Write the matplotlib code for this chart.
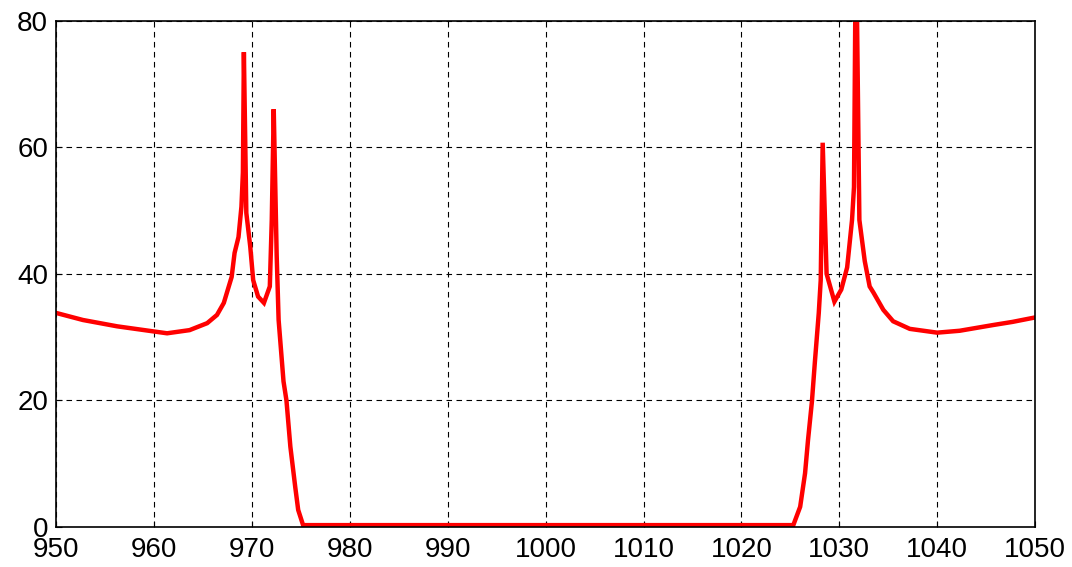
import numpy as np
import matplotlib
matplotlib.use("Agg")
import matplotlib.pyplot as plt

plt.rcParams['font.family'] = ['Liberation Sans', 'DejaVu Sans']

# frequency axis and response (band-stop with resonant edges)
freq = [950.0, 952.7, 956.2, 959.9, 961.3, 963.6, 965.4, 966.4, 967.1, 967.9,
        968.2, 968.6, 968.9, 969.05, 969.15, 969.4, 969.8, 970.1, 970.6, 971.2,
        971.8, 972.0, 972.2, 972.5, 972.7, 973.2, 973.5, 973.9, 974.4, 974.7,
        975.2, 1025.3, 1026.0, 1026.5, 1026.8, 1027.2, 1027.5, 1027.9, 1028.1, 1028.3,
        1028.7, 1029.5, 1030.2, 1030.8, 1031.3, 1031.5, 1031.7, 1032.05, 1032.6, 1033.1,
        1033.5, 1034.5, 1035.5, 1037.2, 1040.0, 1042.3, 1045.7, 1047.7, 1050.0]
level = [33.8, 32.7, 31.7, 30.9, 30.6, 31.1, 32.2, 33.5, 35.4, 39.5,
         43.3, 45.8, 50.6, 56.0, 75.0, 49.6, 44.3, 39.0, 36.4, 35.4,
         38.0, 48.5, 66.0, 43.0, 32.7, 23.0, 20.0, 12.7, 6.3, 2.7,
         0.3, 0.3, 3.2, 8.5, 13.7, 19.8, 26.0, 33.8, 39.0, 60.7,
         40.0, 35.6, 37.5, 41.0, 48.5, 53.7, 95.0, 48.5, 42.0, 38.0,
         37.0, 34.3, 32.5, 31.3, 30.7, 31.0, 31.9, 32.4, 33.1]

xticks = [950, 960, 970, 980, 990, 1000, 1010, 1020, 1030, 1040, 1050]
yticks = [0, 20, 40, 60, 80]

fig = plt.figure(figsize=(10.72, 5.67), dpi=100)
ax = fig.add_axes([0.0527, 0.0705, 0.9128, 0.8933])

ax.plot(freq, level, color='red', linewidth=3.2, solid_joinstyle='miter')

ax.set_xlim(950, 1050)
ax.set_ylim(0, 80)
ax.set_xticks(xticks)
ax.set_yticks(yticks)
ax.tick_params(direction='in', length=4, labelsize=20)
ax.tick_params(axis='x', pad=7)
ax.tick_params(axis='y', pad=6)
ax.grid(True, color='black', linestyle=(0, (5, 4)), linewidth=0.8)
for s in ax.spines.values():
    s.set_linewidth(1.2)

fig.savefig('out.png', dpi=100)
